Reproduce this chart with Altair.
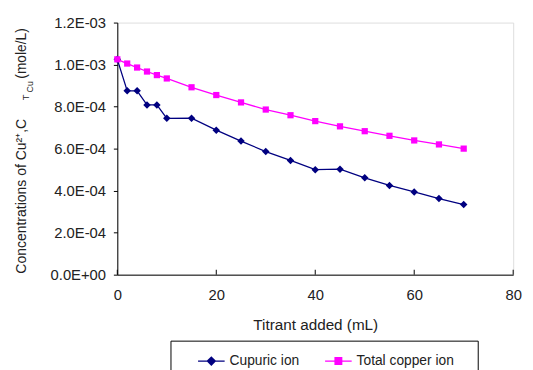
import altair as alt
import pandas as pd

# ---- data ----
titrant_ml = [0, 2, 4, 6, 8, 10, 15, 20, 25, 30, 35, 40, 45, 50, 55, 60, 65, 70]
cupric_ion = [1.025e-3, 0.875e-3, 0.875e-3, 0.808e-3, 0.808e-3, 0.744e-3, 0.745e-3,
              0.688e-3, 0.636e-3, 0.586e-3, 0.544e-3, 0.500e-3, 0.502e-3, 0.461e-3,
              0.425e-3, 0.394e-3, 0.362e-3, 0.334e-3]
total_copper = [1.025e-3, 1.005e-3, 0.986e-3, 0.967e-3, 0.950e-3, 0.934e-3, 0.892e-3,
                0.855e-3, 0.820e-3, 0.786e-3, 0.759e-3, 0.731e-3, 0.706e-3, 0.683e-3,
                0.661e-3, 0.639e-3, 0.620e-3, 0.600e-3]
series_names = ["Cupuric ion", "Total copper ion"]
series_colors = ["#000080", "#FF00FF"]
x_ticks = [0, 20, 40, 60, 80]
y_ticks = [0, 2e-4, 4e-4, 6e-4, 8e-4, 1.0e-3, 1.2e-3]
y_tick_labels = ["0.0E+00", "2.0E-04", "4.0E-04", "6.0E-04", "8.0E-04", "1.0E-03", "1.2E-03"]
x_title = "Titrant added (mL)"
y_title_parts = ["Concentrations of Cu\u00b2\u207a,C", "T", "Cu", "(mole/L)"]

FONT = "Liberation Sans"
TXT = "#222222"

rows = []
for name, vals in zip(series_names, [cupric_ion, total_copper]):
    for xv, yv in zip(titrant_ml, vals):
        rows.append({"titrant": xv, "conc": yv, "series": name})
df = pd.DataFrame(rows)

W, H = 402, 256

label_list = "[" + ",".join("'%s'" % s for s in y_tick_labels) + "]"

x_enc = alt.X("titrant:Q",
              scale=alt.Scale(domain=[0, 80], nice=False, zero=False),
              axis=alt.Axis(values=x_ticks, title=x_title, ticks=False, tickSize=0,
                            grid=False, domainColor="black", domainWidth=1,
                            labelFont=FONT, labelFontSize=15, labelColor=TXT,
                            labelPadding=13, labelFlush=False,
                            titleFont=FONT, titleFontSize=15.5, titleColor=TXT,
                            titleFontWeight="normal", titlePadding=16))
y_enc = alt.Y("conc:Q",
              scale=alt.Scale(domain=[0, 0.0012], nice=False),
              axis=alt.Axis(values=y_ticks, title=None, grid=False,
                            labelExpr=label_list + "[round(datum.value/0.0002)]",
                            tickSize=4, tickColor="black", domainColor="black",
                            labelFont=FONT, labelFontSize=15, labelColor=TXT,
                            labelPadding=8))

color_scale = alt.Scale(domain=series_names, range=series_colors)

base = alt.Chart(df)

lines = base.mark_line(strokeWidth=1.3).encode(
    x=x_enc, y=y_enc,
    color=alt.Color("series:N", scale=color_scale, legend=None),
    order="titrant:Q",
)

pts_cu = base.transform_filter(alt.datum.series == series_names[0]).mark_point(
    shape="diamond", size=58, filled=True, opacity=1, strokeWidth=1
).encode(x=x_enc, y=y_enc, color=alt.Color("series:N", scale=color_scale, legend=None))

pts_tot = base.transform_filter(alt.datum.series == series_names[1]).mark_point(
    shape="square", size=40, filled=True, opacity=1, strokeWidth=1
).encode(x=x_enc, y=y_enc, color=alt.Color("series:N", scale=color_scale, legend=None))

# inward x ticks
xt = alt.Chart(pd.DataFrame({"t": x_ticks})).mark_rule(color="black", strokeWidth=1).encode(
    x=alt.X("t:Q", scale=alt.Scale(domain=[0, 80], nice=False)),
    y=alt.value(H), y2=alt.value(H - 5))

# legend symbols: a short line with a (stroke-filled) marker
def nested_diamond(rs):
    return "".join("M0,-%g L%g,0 L0,%g L-%g,0Z" % (r, r, r, r) for r in rs)

def nested_square(rs):
    return "".join("M-%g,-%g L%g,-%g L%g,%g L-%g,%gZ" % (r, r, r, r, r, r, r, r) for r in rs)

legend_paths = [
    "M-1,0L1,0" + nested_diamond([0.3, 0.22, 0.14, 0.07, 0.02]),
    "M-1,0L1,0" + nested_square([0.25, 0.17, 0.1, 0.03]),
]
leg = alt.Legend(orient="none", legendX=54, legendY=323, direction="horizontal",
                 title=".", titleOrient="right", titleOpacity=0, titlePadding=14,
                 titleFontSize=14,
                 strokeColor="black", fillColor="white", padding=6,
                 symbolSize=729, symbolStrokeWidth=1.3, symbolOpacity=1,
                 labelFont=FONT, labelFontSize=14, labelColor=TXT, labelLimit=400,
                 labelOffset=4, columnPadding=4, symbolOffset=21)
hidden = base.mark_point(opacity=0, filled=False).encode(
    x=x_enc, y=y_enc,
    color=alt.Color("series:N", scale=color_scale, legend=leg),
    shape=alt.Shape("series:N", scale=alt.Scale(domain=series_names, range=legend_paths), legend=leg),
)

# y title pieces (with subscripts)
def ytxt(text, x, y, size):
    return alt.Chart(pd.DataFrame({"s": [text]})).mark_text(
        angle=270, align="left", baseline="middle", font=FONT, fontSize=size, color=TXT
    ).encode(text="s:N", x=alt.value(x), y=alt.value(y))

t1 = ytxt(y_title_parts[0], -97, 255, 14.2)
t2 = ytxt(y_title_parts[1], -92.5, 79, 9.5)
t3 = ytxt(y_title_parts[2], -88.5, 71, 9)
t4 = ytxt(y_title_parts[3], -97, 57, 14)

chart = alt.layer(lines, pts_cu, pts_tot, xt, hidden, t1, t2, t3, t4).resolve_legend(
    color="independent", shape="independent"
).properties(
    width=W, height=H,
    autosize=alt.AutoSizeParams(type="none"),
    padding={"left": 111, "top": 12, "right": 12, "bottom": 94},
).configure_view(stroke="#a6a6a6", strokeWidth=1.5).configure_legend(
    labelFont=FONT, labelFontSize=14, labelColor=TXT
).configure(background="white")

chart.save("out.html", embed_options={"renderer": "svg", "actions": False})
